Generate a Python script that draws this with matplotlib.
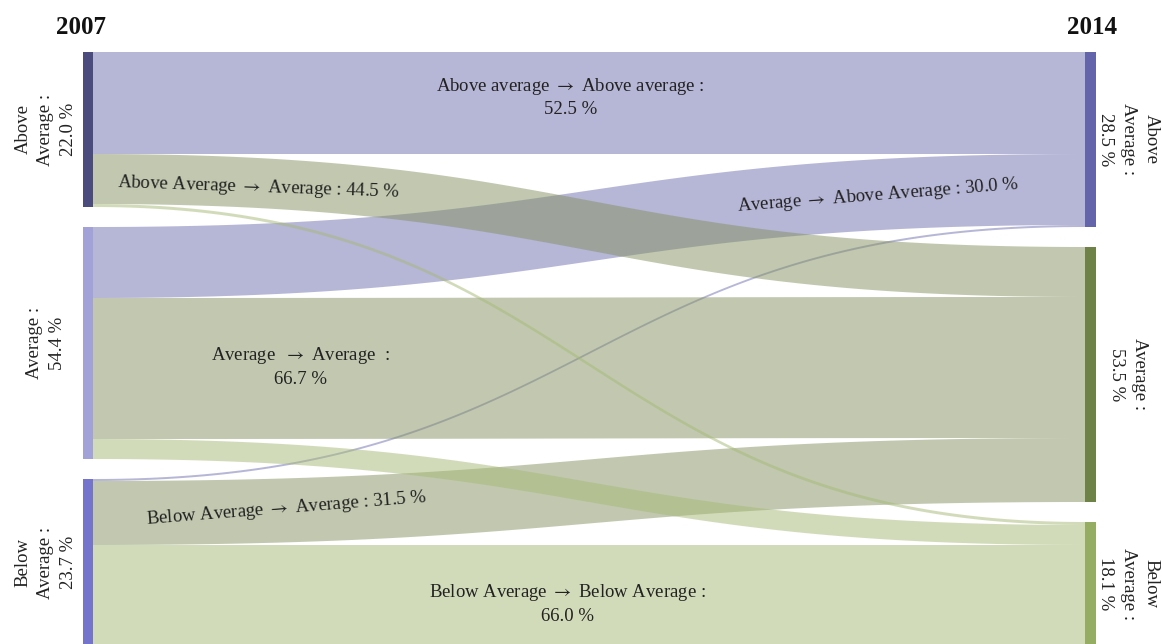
import numpy as np
import matplotlib
matplotlib.use('Agg')
import matplotlib.pyplot as plt
from matplotlib.patches import Rectangle

# ---------------- data ----------------
years = ['2007', '2014']
categories = ['Above Average', 'Average', 'Below Average']
left_label_names = ['Above\nAverage :', 'Average :', 'Below\nAverage :']
right_label_names = ['Above\nAverage :', 'Average :', 'Below\nAverage :']
left_pct = [22.0, 54.4, 23.7]
right_pct = [28.5, 53.5, 18.1]
# band widths; rows = 2007 group, cols = 2014 group
flow_size = [[102, 50, 3],
             [71, 141, 20],
             [2, 64, 101]]
ARROW = r'$\rightarrow$'
flow_label_text = {
    (0, 0): f'Above average {ARROW} Above average :\n52.5 %',
    (0, 1): f'Above Average {ARROW} Average : 44.5 %',
    (1, 0): f'Average {ARROW} Above Average : 30.0 %',
    (1, 1): f'Average  {ARROW} Average  :\n66.7 %',
    (2, 1): f'Below Average {ARROW} Average : 31.5 %',
    (2, 2): f'Below Average {ARROW} Below Average :\n66.0 %',
}

# ---------------- style / layout ----------------
FONT = ['Liberation Serif', 'DejaVu Serif']
plt.rcParams['font.family'] = FONT
plt.rcParams['mathtext.fontset'] = 'stix'
GAP = 20
flow_base = ['#6f6faf', '#859260', '#a7b975']   # by destination
FLOW_ALPHA = 0.5
left_node_colors = ['#4b4b7d', '#a2a2d8', '#7474cc']
right_node_colors = ['#6464aa', '#6e8248', '#95ad62']
TEXT_COLOR = '#222222'
# label layout: (x fraction, dy, rotation)
label_layout = {
    (0, 0): (0.481, -6, 0),
    (0, 1): (0.167, 4, -2),
    (1, 0): (0.792, 1, 4.5),
    (1, 1): (0.209, -2, 0),
    (2, 1): (0.195, -2, 4.5),
    (2, 2): (0.478, 8, 0),
}

W, H = 1162, 644
PXL, PXR, TOP = 93, 1085, 52
span = PXR - PXL

fig = plt.figure(figsize=(W / 100, H / 100), dpi=100)
ax = fig.add_axes([0, 0, 1, 1])
ax.set_xlim(-PXL / span, (W - PXL) / span)
ax.set_ylim(H - TOP, -TOP)
ax.axis('off')

n = len(categories)
fs = np.array(flow_size, dtype=float)
left_tot = fs.sum(axis=1)
right_tot = fs.sum(axis=0)
left_top = np.concatenate([[0], np.cumsum(left_tot + GAP)[:-1]])
right_top = np.concatenate([[0], np.cumsum(right_tot + GAP)[:-1]])

# band end positions
l_off = {}
r_off = {}
for i in range(n):
    y = left_top[i]
    for j in range(n):
        l_off[(i, j)] = (y, y + fs[i, j])
        y += fs[i, j]
for j in range(n):
    y = right_top[j]
    for i in range(n):
        r_off[(i, j)] = (y, y + fs[i, j])
        y += fs[i, j]

t = np.linspace(0, 1, 200)
xt = 1.5 * t - 1.5 * t ** 2 + t ** 3
st = 3 * t ** 2 - 2 * t ** 3


def band_y(yl, yr, s):
    return yl + (yr - yl) * s


for j in range(n):
    for i in range(n):
        (a0, a1), (b0, b1) = l_off[(i, j)], r_off[(i, j)]
        ytop = band_y(a0, b0, st)
        ybot = band_y(a1, b1, st)
        xs = np.concatenate([xt, xt[::-1]])
        ys = np.concatenate([ytop, ybot[::-1]])
        ax.fill(xs, ys, color=flow_base[j], alpha=FLOW_ALPHA, lw=0, zorder=1)

# node bars
bw_l = 10 / span
bw_r = 11 / span
for i in range(n):
    ax.add_patch(Rectangle((-bw_l, left_top[i]), bw_l, left_tot[i],
                           color=left_node_colors[i], lw=0, zorder=3))
    ax.add_patch(Rectangle((1, right_top[i]), bw_r, right_tot[i],
                           color=right_node_colors[i], lw=0, zorder=3))

# node labels
for i in range(n):
    ax.text((46 - PXL) / span, left_top[i] + left_tot[i] / 2,
            f'{left_label_names[i]}\n{left_pct[i]:.1f} %', rotation=90,
            ha='center', va='center', multialignment='center',
            fontsize=13.5, color=TEXT_COLOR, linespacing=1.45)
    ax.text((1128 - PXL) / span, right_top[i] + right_tot[i] / 2,
            f'{right_label_names[i]}\n{right_pct[i]:.1f} %', rotation=270,
            ha='center', va='center', multialignment='center',
            fontsize=13.5, color=TEXT_COLOR, linespacing=1.45)

# year labels
ax.text((81 - PXL) / span, 28 - TOP, years[0], ha='center', va='center',
        fontsize=18, fontweight='bold', color='#111111')
ax.text((1092 - PXL) / span, 28 - TOP, years[1], ha='center', va='center',
        fontsize=18, fontweight='bold', color='#111111')

# flow labels
for key, txt in flow_label_text.items():
    xf, dy, rot = label_layout[key]
    tt = np.interp(xf, xt, t)
    s = 3 * tt ** 2 - 2 * tt ** 3
    (a0, a1), (b0, b1) = l_off[key], r_off[key]
    yc = band_y((a0 + a1) / 2, (b0 + b1) / 2, s) + dy
    ax.text(xf, yc, txt, ha='center', va='center', rotation=rot,
            rotation_mode='anchor', multialignment='center',
            fontsize=13.5, color=TEXT_COLOR, linespacing=1.35, zorder=5)

fig.savefig('out.png', dpi=100, facecolor='white')
